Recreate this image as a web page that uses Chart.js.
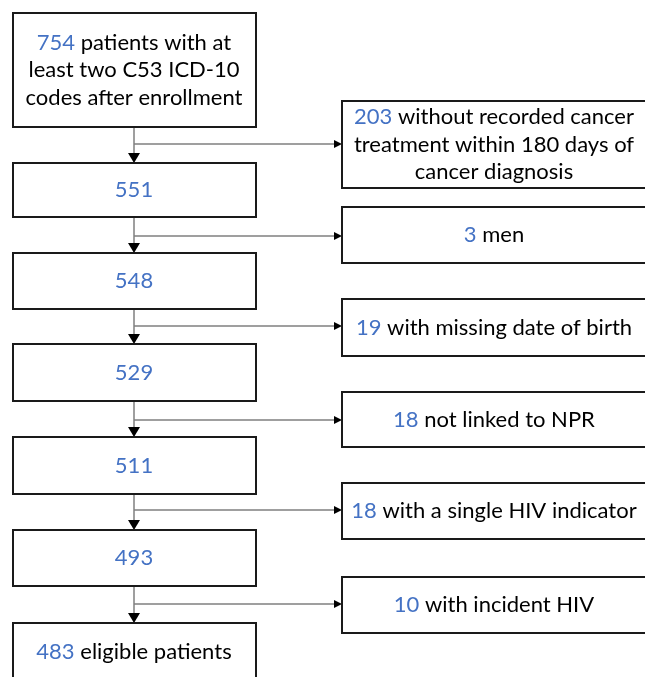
<!DOCTYPE html>
<html>
<head>
<meta charset="utf-8">
<script src="https://cdn.jsdelivr.net/npm/chart.js@4"></script>
<style>
  body { margin: 0; background: #fff; }
  #wrap { width: 645px; height: 677px; }
</style>
</head>
<body>
<div id="wrap"><canvas id="flowChart" width="645" height="677"></canvas></div>
<script>
// patients left after each step
const remaining = [754, 551, 548, 529, 511, 493, 483];
const remainingText = [
  [" patients with at", "least two C53 ICD-10", "codes after enrollment"],
  [""], [""], [""], [""], [""],
  [" eligible patients"]
];
// patients excluded at each step
const excluded = [203, 3, 19, 18, 18, 10];
const excludedText = [
  [" without recorded cancer", "treatment within 180 days of", "cancer diagnosis"],
  [" men"],
  [" with missing date of birth"],
  [" not linked to NPR"],
  [" with a single HIV indicator"],
  [" with incident HIV"]
];

// layout (chart units = pixels of the reference)
const mainLeft = 13, mainRight = 256, stemX = 134;
const mainRows = [[13, 127], [163, 217], [253, 309], [344, 401], [437, 494], [530, 586], [623, 680]];
const exclLeft = 342, exclRight = 647;
const exclRows = [[101, 188], [207, 263], [299, 356], [392, 447], [483, 539], [577, 633]];
const branchY = [144, 236, 326, 420, 510, 604];

const BLUE = "#4472c4";
const FONT = "22px Lato";
const LINE_H = 27.5;

function drawBoxText(ctx, cx, cy, num, lines) {
  ctx.font = FONT;
  ctx.textBaseline = "middle";
  ctx.textAlign = "left";
  const y0 = cy - (lines.length - 1) * LINE_H / 2;
  lines.forEach((t, i) => {
    const y = y0 + i * LINE_H;
    if (i === 0) {
      const a = String(num);
      const wa = ctx.measureText(a).width;
      const wb = ctx.measureText(t).width;
      let x = cx - (wa + wb) / 2;
      ctx.fillStyle = BLUE;
      ctx.fillText(a, x, y);
      ctx.fillStyle = "#000";
      ctx.fillText(t, x + wa, y);
    } else {
      const w = ctx.measureText(t).width;
      ctx.fillStyle = "#000";
      ctx.fillText(t, cx - w / 2, y);
    }
  });
}

function arrowHead(ctx, x, y, dir, size) {
  ctx.fillStyle = "#000";
  ctx.beginPath();
  if (dir === "down") {
    ctx.moveTo(x, y);
    ctx.lineTo(x - size * 0.6, y - size);
    ctx.lineTo(x + size * 0.6, y - size);
  } else {
    ctx.moveTo(x, y);
    ctx.lineTo(x - size, y - size * 0.5);
    ctx.lineTo(x - size, y + size * 0.5);
  }
  ctx.closePath();
  ctx.fill();
}

const flowPlugin = {
  id: "flow",
  afterDraw(chart) {
    const ctx = chart.ctx;
    const sx = chart.scales.x, sy = chart.scales.y;
    const X = v => sx.getPixelForValue(v);
    const Y = v => sy.getPixelForValue(v);
    ctx.save();

    // connectors
    ctx.strokeStyle = "#7f7f7f";
    ctx.lineWidth = 1.5;
    for (let i = 0; i < excluded.length; i++) {
      const yTop = Y(mainRows[i][1]);
      const yBot = Y(mainRows[i + 1][0]);
      ctx.beginPath();
      ctx.moveTo(X(stemX), yTop);
      ctx.lineTo(X(stemX), yBot - 9);
      ctx.stroke();
      arrowHead(ctx, X(stemX), yBot, "down", 10);
      ctx.beginPath();
      ctx.moveTo(X(stemX), Y(branchY[i]));
      ctx.lineTo(X(exclLeft) - 7, Y(branchY[i]));
      ctx.stroke();
      arrowHead(ctx, X(exclLeft), Y(branchY[i]), "right", 8);
    }

    // boxes
    ctx.strokeStyle = "#1a1a1a";
    ctx.lineWidth = 2;
    remaining.forEach((n, i) => {
      const [t, b] = mainRows[i];
      ctx.strokeStyle = "#1a1a1a";
      ctx.lineWidth = 2;
      ctx.strokeRect(X(mainLeft), Y(t), X(mainRight) - X(mainLeft), Y(b) - Y(t));
      drawBoxText(ctx, X(stemX), (Y(t) + Y(b)) / 2, n, remainingText[i]);
    });
    excluded.forEach((n, i) => {
      const [t, b] = exclRows[i];
      ctx.strokeStyle = "#1a1a1a";
      ctx.lineWidth = 2;
      ctx.strokeRect(X(exclLeft), Y(t), X(exclRight) - X(exclLeft), Y(b) - Y(t));
      drawBoxText(ctx, X(494), (Y(t) + Y(b)) / 2, n, excludedText[i]);
    });
    ctx.restore();
  }
};

new Chart(document.getElementById("flowChart"), {
  type: "scatter",
  data: { datasets: [{ data: [], pointRadius: 0 }] },
  options: {
    responsive: false,
    animation: false,
    layout: { padding: 0 },
    plugins: { legend: { display: false }, tooltip: { enabled: false } },
    scales: {
      x: { display: false, min: 0, max: 645 },
      y: { display: false, min: 0, max: 677, reverse: true }
    }
  },
  plugins: [flowPlugin]
});
</script>
</body>
</html>
